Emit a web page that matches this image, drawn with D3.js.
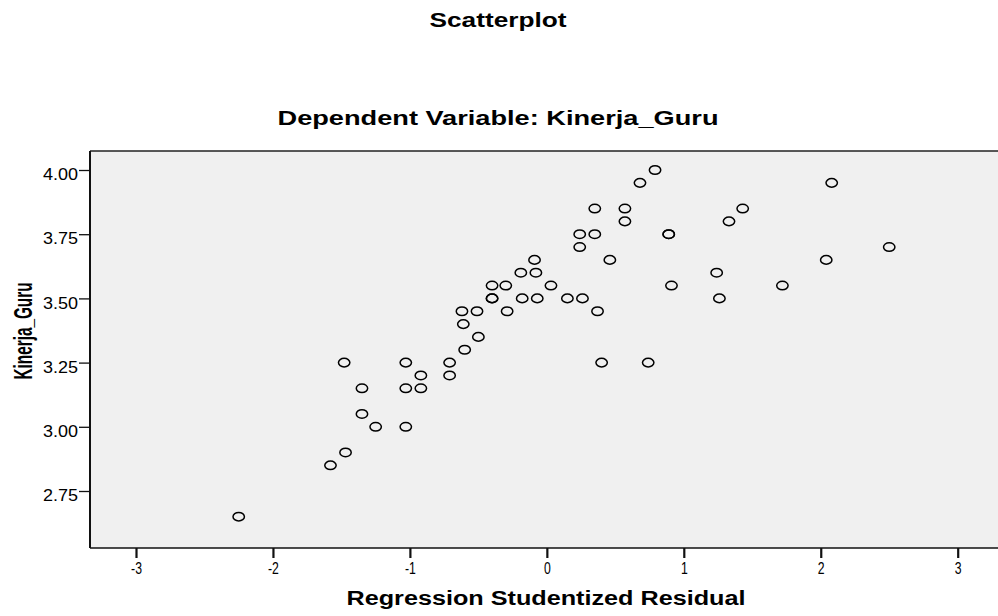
<!DOCTYPE html>
<html>
<head>
<meta charset="utf-8">
<script src="https://cdn.jsdelivr.net/npm/d3@7"></script>
<style>
  body { margin: 0; background: #fff; }
  svg { display: block; }
  text { font-family: "Liberation Sans", Arial, sans-serif; fill: #000; }
</style>
</head>
<body>
<div id="chart"></div>
<script>
// studentized residuals (x) and Kinerja_Guru (y)
const residuals = [
  0.79,
  0.68, 2.08,
  0.35, 0.57, 1.43,
  0.57, 1.33,
  0.24, 0.35, 0.89, 0.89,
  0.24, 2.50,
  -0.09, 0.46, 2.04,
  -0.19, -0.08, 1.24,
  -0.40, -0.30, 0.03, 0.91, 1.72,
  -0.40, -0.40, -0.18, -0.07, 0.15, 0.26, 1.26,
  -0.62, -0.51, -0.29, 0.37,
  -0.61,
  -0.50,
  -0.60,
  -1.48, -1.03, -0.71, 0.40, 0.74,
  -0.92, -0.71,
  -1.35, -1.03, -0.92,
  -1.35,
  -1.25, -1.03,
  -1.47,
  -1.58,
  -2.25
];
const kinerja = [
  4.00,
  3.95, 3.95,
  3.85, 3.85, 3.85,
  3.80, 3.80,
  3.75, 3.75, 3.75, 3.75,
  3.70, 3.70,
  3.65, 3.65, 3.65,
  3.60, 3.60, 3.60,
  3.55, 3.55, 3.55, 3.55, 3.55,
  3.50, 3.50, 3.50, 3.50, 3.50, 3.50, 3.50,
  3.45, 3.45, 3.45, 3.45,
  3.40,
  3.35,
  3.30,
  3.25, 3.25, 3.25, 3.25, 3.25,
  3.20, 3.20,
  3.15, 3.15, 3.15,
  3.05,
  3.00, 3.00,
  2.90,
  2.85,
  2.65
];
const xTicks = [-3, -2, -1, 0, 1, 2, 3];
const yTicks = [2.75, 3.00, 3.25, 3.50, 3.75, 4.00];

const width = 998, height = 616;
const plot = { left: 90, top: 151, right: 998, bottom: 548 };
const font = '"Liberation Sans", Arial, sans-serif';

const svg = d3.select("#chart").append("svg")
  .attr("width", width)
  .attr("height", height);

const x = d3.scaleLinear().domain([-3, 3]).range([136, 957.7]);
const y = d3.scaleLinear().domain([2.75, 4.00]).range([491, 170]);

// plot background
svg.append("rect")
  .attr("x", plot.left).attr("y", plot.top)
  .attr("width", plot.right - plot.left)
  .attr("height", plot.bottom - plot.top)
  .attr("fill", "#f0f0f0");

// titles
svg.append("text")
  .attr("x", 498).attr("y", 27)
  .attr("text-anchor", "middle")
  .style("font-size", "20px").style("font-weight", "bold")
  .attr("textLength", 137).attr("lengthAdjust", "spacingAndGlyphs")
  .text("Scatterplot");

svg.append("text")
  .attr("x", 498).attr("y", 125)
  .attr("text-anchor", "middle")
  .style("font-size", "20px").style("font-weight", "bold")
  .attr("textLength", 441).attr("lengthAdjust", "spacingAndGlyphs")
  .text("Dependent Variable: Kinerja_Guru");

// axes
const yAxis = svg.append("g")
  .attr("transform", `translate(${plot.left},0)`)
  .call(d3.axisLeft(y).tickValues(yTicks).tickFormat(d3.format(".2f")).tickSize(11).tickPadding(1));
yAxis.select(".domain").remove();
yAxis.selectAll(".tick line").attr("stroke", "#111").attr("stroke-width", 1.3);
yAxis.selectAll(".tick text")
  .style("font-size", "16px")
  .style("font-family", font)
  .attr("dy", "0.6em")
  .attr("fill", "#222")
  .attr("textLength", 35).attr("lengthAdjust", "spacingAndGlyphs");

const xAxis = svg.append("g")
  .attr("transform", `translate(0,${plot.bottom})`)
  .call(d3.axisBottom(x).tickValues(xTicks).tickFormat(d3.format("d")).tickSize(10).tickPadding(4));
xAxis.select(".domain").remove();
xAxis.selectAll(".tick line").attr("stroke", "#111").attr("stroke-width", 2.2);
xAxis.selectAll(".tick text")
  .style("font-size", "17px")
  .style("font-family", font)
  .attr("fill", "#222")
  .text(d => d < 0 ? "-" + Math.abs(d) : String(d))
  .each(function () {
    // labels in the reference are narrow and tall
    d3.select(this)
      .attr("textLength", this.getComputedTextLength() * 0.72)
      .attr("lengthAdjust", "spacingAndGlyphs");
  });

// frame lines
svg.append("line")
  .attr("x1", plot.left).attr("x2", plot.right)
  .attr("y1", plot.top).attr("y2", plot.top)
  .attr("stroke", "#222").attr("stroke-width", 1.4);
svg.append("line")
  .attr("x1", plot.left).attr("x2", plot.right)
  .attr("y1", plot.bottom).attr("y2", plot.bottom)
  .attr("stroke", "#111").attr("stroke-width", 1.4);
svg.append("line")
  .attr("x1", plot.left).attr("x2", plot.left)
  .attr("y1", plot.top).attr("y2", plot.bottom)
  .attr("stroke", "#111").attr("stroke-width", 2);

// axis titles
svg.append("text")
  .attr("x", 546).attr("y", 605)
  .attr("text-anchor", "middle")
  .style("font-size", "20px").style("font-weight", "bold")
  .attr("textLength", 399).attr("lengthAdjust", "spacingAndGlyphs")
  .text("Regression Studentized Residual");

svg.append("text")
  .attr("transform", "translate(32,331) rotate(-90)")
  .attr("text-anchor", "middle")
  .style("font-size", "25px").style("font-weight", "bold")
  .attr("textLength", 97).attr("lengthAdjust", "spacingAndGlyphs")
  .text("Kinerja_Guru");

// points
svg.append("g")
  .selectAll("ellipse")
  .data(d3.range(residuals.length))
  .join("ellipse")
  .attr("cx", i => x(residuals[i]))
  .attr("cy", i => y(kinerja[i]))
  .attr("rx", 5.7)
  .attr("ry", 4.3)
  .attr("fill", "none")
  .attr("stroke", "#000")
  .attr("stroke-width", 1.5);
</script>
</body>
</html>
